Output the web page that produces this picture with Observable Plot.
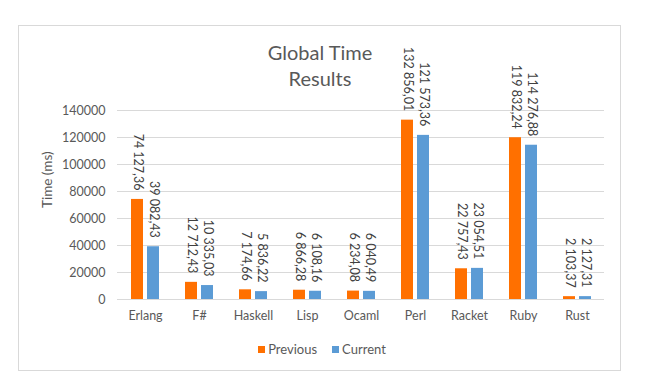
<!DOCTYPE html>
<html>
<head>
<meta charset="utf-8">
<script src="https://cdn.jsdelivr.net/npm/d3@7"></script>
<script src="https://cdn.jsdelivr.net/npm/@observablehq/plot@0.6"></script>
<style>
  html, body { margin: 0; padding: 0; background: #fff; }
  #wrap { position: relative; width: 666px; height: 386px; background: #fff; font-family: Lato, "Open Sans", sans-serif; overflow: hidden; }
  #box { position: absolute; left: 18px; top: 25px; width: 601px; height: 344px; border: 1px solid #d9d9d9; }
  #title { position: absolute; left: 0; top: 39px; width: 640px; text-align: center; font-size: 20px; line-height: 26px; color: #595959; }
  #chart { position: absolute; left: 0; top: 0; }
  #legend { position: absolute; left: 0; top: 340px; width: 644px; display: flex; justify-content: center; align-items: center; font-size: 13px; color: #595959; line-height: 18px; }
  .sw { display: inline-block; width: 7px; height: 7px; margin-right: 3px; }
  .item { display: flex; align-items: center; }
  .item + .item { margin-left: 15px; }
</style>
</head>
<body>
<div id="wrap">
  <div id="box"></div>
  <div id="chart"></div>
  <div id="title">Global Time<br>Results</div>
  <div id="legend"></div>
</div>
<script>
const categories = ["Erlang", "F#", "Haskell", "Lisp", "Ocaml", "Perl", "Racket", "Ruby", "Rust"];
const previous = [74127.36, 12712.43, 7174.66, 6866.28, 6234.08, 132856.01, 22757.43, 119832.24, 2103.37];
const current = [39082.43, 10335.03, 5836.22, 6108.16, 6040.49, 121573.36, 23054.51, 114276.88, 2127.31];
const seriesNames = ["Previous", "Current"];
const seriesColors = ["#ff7000", "#5b9bd5"];
const yTicks = [0, 20000, 40000, 60000, 80000, 100000, 120000, 140000];
const yLabel = "Time (ms)";

const prevRows = categories.map((c, i) => ({cat: c, series: "Previous", value: previous[i]}));
const currRows = categories.map((c, i) => ({cat: c, series: "Current", value: current[i]}));

const locale = d3.formatLocale({decimal: ",", thousands: " ", grouping: [3], currency: ["", ""]});
const fmt = locale.format(",.2f");

const labelStyle = {rotate: 90, textAnchor: "end", fill: "#404040", fontSize: 12.5, dy: -9};

const chart = Plot.plot({
  width: 666,
  height: 335,
  marginTop: 110,
  marginBottom: 36,
  marginLeft: 117,
  marginRight: 62,
  style: {fontFamily: "Lato, 'Open Sans', sans-serif", fontSize: "12.5px", color: "#595959", background: "transparent"},
  x: {type: "band", domain: categories, paddingInner: 0.778, paddingOuter: 0.389},
  y: {domain: [0, 140000]},
  color: {domain: seriesNames, range: seriesColors},
  marks: [
    Plot.gridY(yTicks, {stroke: "#d9d9d9", strokeOpacity: 1, strokeWidth: 1}),
    Plot.axisY(yTicks, {tickSize: 0, tickPadding: 12, tickFormat: d3.format("d"), fontSize: 12.5, label: null}),
    Plot.text([yLabel], {frameAnchor: "left", rotate: -90, dx: -70, dy: 3, fontSize: 13.5, fill: "#595959"}),
    Plot.axisX({tickSize: 0, tickPadding: 12, label: null, fontSize: 12.5}),
    Plot.barY(prevRows, {x: "cat", y: "value", fill: "series", dx: -8}),
    Plot.barY(currRows, {x: "cat", y: "value", fill: "series", dx: 8}),
    Plot.text(prevRows, {x: "cat", y: "value", text: d => fmt(d.value), dx: -8, ...labelStyle}),
    Plot.text(currRows, {x: "cat", y: "value", text: d => fmt(d.value), dx: 8, ...labelStyle})
  ]
});
document.getElementById("chart").appendChild(chart);

const legend = document.getElementById("legend");
seriesNames.forEach((name, i) => {
  const item = document.createElement("span");
  item.className = "item";
  const sw = document.createElement("span");
  sw.className = "sw";
  sw.style.background = seriesColors[i];
  item.appendChild(sw);
  item.appendChild(document.createTextNode(name));
  legend.appendChild(item);
});
</script>
</body>
</html>
